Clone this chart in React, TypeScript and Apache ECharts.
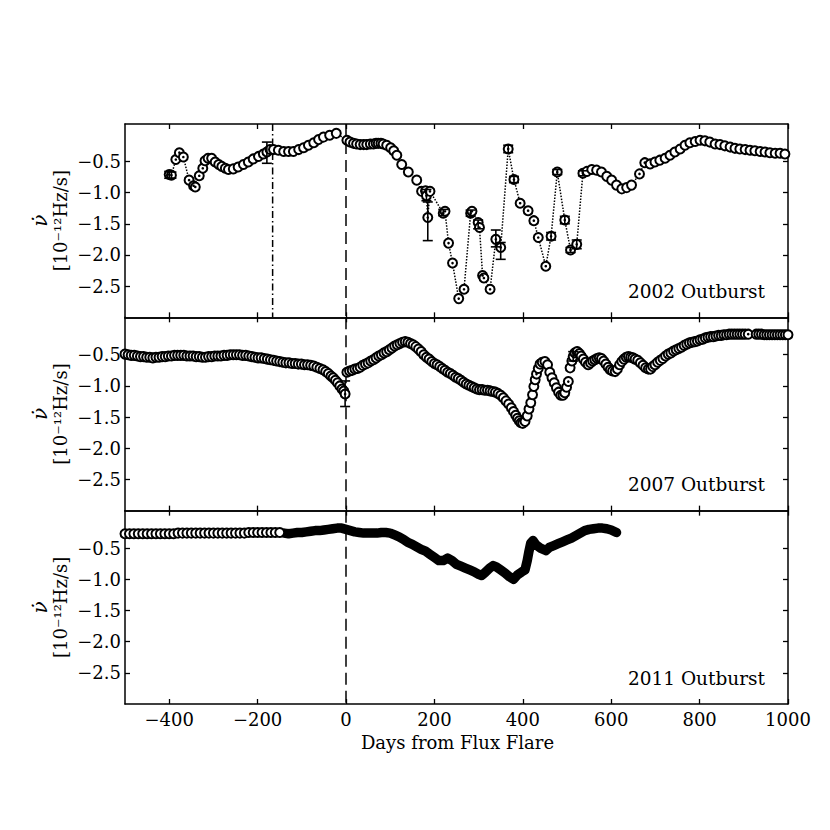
import React, { useEffect, useRef } from "react";
import * as echarts from "echarts";

// ---------- axes / labels ----------
const X_MIN = -500;
const X_MAX = 1000;
const Y_MIN = -3.0;
const Y_MAX = 0.1;
const X_TICKS = [-400, -200, 0, 200, 400, 600, 800, 1000];
const Y_TICKS = [-2.5, -2.0, -1.5, -1.0, -0.5];
const PANEL_LABELS = ["2002 Outburst", "2007 Outburst", "2011 Outburst"];
const X_TITLE = "Days from Flux Flare";
const Y_TITLE_TOP = "\u03BD\u0307";
const Y_TITLE_UNIT = "[10\u207B\u00B9\u00B2Hz/s]";
const FLARE_DAY = 0;
const DASHDOT_DAY_2002 = -166;

// ---------- 2002 outburst [day, nu-dot] ----------
const data2002: [number, number][] = [
  [-400, -0.71], [-395, -0.72], [-385, -0.47], [-377, -0.36], [-368, -0.43], [-355, -0.8],
  [-345, -0.89], [-341, -0.91], [-332, -0.73], [-324, -0.61], [-319, -0.49], [-312, -0.45],
  [-304, -0.45], [-296, -0.51], [-288, -0.55], [-281, -0.58], [-273, -0.61], [-266, -0.63],
  [-255, -0.62], [-244, -0.59], [-232, -0.55], [-221, -0.51], [-210, -0.46], [-198, -0.42],
  [-187, -0.38], [-179, -0.35], [-172, -0.31], [-164, -0.31], [-153, -0.32], [-141, -0.34],
  [-130, -0.34], [-119, -0.34], [-107, -0.31], [-96, -0.28], [-85, -0.24], [-73, -0.2],
  [-62, -0.15], [-51, -0.11], [-37, -0.08], [-22, -0.05],
  [2, -0.16], [9, -0.19], [17, -0.21], [24, -0.22], [32, -0.23], [40, -0.23], [47, -0.23],
  [55, -0.22], [62, -0.22], [68, -0.21], [73, -0.21], [79, -0.21], [84, -0.22], [92, -0.24],
  [101, -0.28], [108, -0.33], [115, -0.4], [126, -0.55], [141, -0.67], [160, -0.8],
  [171, -0.98], [180, -0.97], [182, -1.05], [185, -1.4], [190, -0.98], [220, -1.33],
  [224, -1.3], [232, -1.81], [241, -2.13], [255, -2.7], [267, -2.55], [282, -1.33],
  [285, -1.3], [299, -1.48], [302, -1.56], [309, -2.33], [312, -2.37], [326, -2.55],
  [339, -1.75], [350, -1.88], [367, -0.3], [380, -0.79], [394, -1.17], [412, -1.29],
  [425, -1.45], [435, -1.72], [452, -2.18], [464, -1.7], [478, -0.67], [495, -1.44],
  [508, -1.92], [522, -1.83], [536, -0.69], [545, -0.66], [556, -0.63], [567, -0.64],
  [578, -0.67], [590, -0.74], [601, -0.8], [612, -0.88], [624, -0.94], [635, -0.92],
  [646, -0.88], [664, -0.7], [676, -0.52], [688, -0.54], [699, -0.51], [710, -0.48],
  [722, -0.45], [733, -0.4], [744, -0.35], [756, -0.3], [767, -0.24], [778, -0.2],
  [790, -0.18], [801, -0.16], [812, -0.17], [823, -0.19], [835, -0.22], [846, -0.23],
  [857, -0.25], [869, -0.27], [880, -0.29], [891, -0.3], [903, -0.31], [914, -0.32],
  [925, -0.33], [937, -0.34], [948, -0.35], [959, -0.36], [971, -0.37], [982, -0.37],
  [993, -0.38],
];
// [day, low, high]
const err2002: [number, number, number][] = [
  [-400, -0.77, -0.66], [-395, -0.77, -0.67], [-179, -0.53, -0.19], [182, -1.13, -0.95],
  [185, -1.77, -1.15], [220, -1.37, -1.27], [282, -1.38, -1.28], [299, -1.58, -1.44],
  [339, -1.87, -1.6], [350, -2.07, -1.8], [367, -0.36, -0.24], [380, -0.84, -0.74],
  [464, -1.76, -1.64], [478, -0.71, -0.63], [495, -1.5, -1.38], [508, -1.96, -1.88],
  [522, -1.9, -1.76], [536, -0.73, -0.65],
];
const dotRanges2002: [number, number][] = [[-400, -320], [170, 540], [660, 680]];

// ---------- 2007 outburst ----------
const data2007: [number, number][] = [
  [-500, -0.49], [-493, -0.5], [-486, -0.51], [-479, -0.51], [-472, -0.52], [-465, -0.53],
  [-458, -0.53], [-451, -0.54], [-444, -0.54], [-437, -0.55], [-430, -0.54], [-423, -0.54],
  [-416, -0.53], [-409, -0.53], [-402, -0.52], [-395, -0.52], [-388, -0.51], [-381, -0.51],
  [-374, -0.51], [-367, -0.51], [-360, -0.52], [-353, -0.52], [-346, -0.52], [-339, -0.53],
  [-332, -0.53], [-325, -0.54], [-318, -0.54], [-311, -0.53], [-304, -0.53], [-297, -0.52],
  [-290, -0.52], [-283, -0.52], [-276, -0.51], [-269, -0.51], [-262, -0.5], [-255, -0.5],
  [-248, -0.5], [-241, -0.5], [-234, -0.51], [-227, -0.51], [-220, -0.52], [-213, -0.53],
  [-206, -0.54], [-199, -0.55], [-192, -0.55], [-185, -0.56], [-178, -0.57], [-171, -0.58],
  [-164, -0.59], [-157, -0.6], [-150, -0.61], [-143, -0.62], [-136, -0.63], [-129, -0.63],
  [-122, -0.64], [-115, -0.64], [-108, -0.65], [-101, -0.65], [-94, -0.66], [-87, -0.66],
  [-80, -0.67], [-73, -0.68], [-66, -0.7], [-59, -0.72], [-52, -0.74], [-46, -0.77],
  [-40, -0.8], [-34, -0.84], [-29, -0.87], [-24, -0.91], [-19, -0.95], [-14, -1.0],
  [-9, -1.05], [-5, -1.08], [-2, -1.13],
  [2, -0.78], [8, -0.76], [14, -0.75], [20, -0.73], [26, -0.72], [32, -0.7], [38, -0.67],
  [44, -0.65], [50, -0.63], [56, -0.6], [62, -0.58], [68, -0.55], [74, -0.52], [80, -0.5],
  [86, -0.47], [92, -0.45], [98, -0.42], [104, -0.39], [110, -0.36], [116, -0.34],
  [122, -0.32], [128, -0.3], [134, -0.29], [140, -0.3], [146, -0.32], [152, -0.34],
  [158, -0.37], [164, -0.41], [170, -0.45], [176, -0.5], [182, -0.54], [188, -0.57],
  [194, -0.61], [200, -0.64], [206, -0.66], [212, -0.69], [218, -0.72], [224, -0.75],
  [230, -0.78], [236, -0.8], [242, -0.83], [248, -0.86], [254, -0.88], [260, -0.91],
  [266, -0.94], [272, -0.97], [278, -0.99], [284, -1.01], [290, -1.03], [296, -1.05],
  [302, -1.06], [308, -1.06], [314, -1.07], [320, -1.07], [326, -1.08], [332, -1.09],
  [338, -1.1], [344, -1.12], [350, -1.15], [356, -1.19], [362, -1.24], [368, -1.29],
  [374, -1.35], [379, -1.41], [384, -1.47], [388, -1.52], [392, -1.56], [396, -1.59],
  [400, -1.6], [405, -1.57], [410, -1.48], [414, -1.37], [418, -1.27], [422, -1.14],
  [425, -1.01], [428, -0.9], [431, -0.81], [435, -0.72], [439, -0.65], [444, -0.62],
  [450, -0.61], [456, -0.66], [461, -0.78], [466, -0.87], [471, -0.95], [476, -1.03],
  [481, -1.1], [486, -1.15], [491, -1.15], [495, -1.11], [499, -1.02], [503, -0.93],
  [507, -0.71], [511, -0.6], [514, -0.53], [518, -0.47], [523, -0.45], [528, -0.48],
  [532, -0.52], [537, -0.57], [542, -0.62], [548, -0.66], [553, -0.63], [558, -0.6],
  [563, -0.58], [568, -0.56], [573, -0.55], [578, -0.56], [583, -0.6], [588, -0.65],
  [593, -0.7], [598, -0.74], [603, -0.76], [609, -0.77], [614, -0.73], [619, -0.66],
  [624, -0.61], [629, -0.57], [634, -0.54], [639, -0.53], [644, -0.54], [649, -0.55],
  [654, -0.57], [660, -0.59], [666, -0.63], [672, -0.67], [678, -0.71], [684, -0.73],
  [689, -0.73], [694, -0.69], [699, -0.66], [705, -0.62], [711, -0.59], [717, -0.56],
  [723, -0.52], [729, -0.49], [735, -0.47], [741, -0.44], [747, -0.42], [753, -0.4],
  [759, -0.38], [765, -0.35], [771, -0.33], [777, -0.31], [783, -0.3], [789, -0.29],
  [795, -0.28], [801, -0.26], [807, -0.25], [813, -0.23], [819, -0.22], [825, -0.21],
  [831, -0.21], [837, -0.2], [843, -0.19], [849, -0.19], [855, -0.18], [861, -0.18],
  [867, -0.17], [873, -0.17], [879, -0.17], [885, -0.17], [891, -0.17], [897, -0.17],
  [903, -0.17], [910, -0.17],
  [928, -0.17], [934, -0.17], [940, -0.17], [946, -0.18], [952, -0.18], [958, -0.18],
  [964, -0.18], [970, -0.18], [976, -0.18], [982, -0.18], [988, -0.18], [994, -0.18],
  [1000, -0.18],
];
const err2007: [number, number, number][] = [[-2, -1.33, -0.92], [514, -0.6, -0.45]];
const dotDays2007 = [-2, 431, 503, 514, 910];

// ---------- 2011 outburst ----------
const data2011Sparse: [number, number][] = [
  [-500, -0.27], [-490, -0.27], [-480, -0.27], [-470, -0.27], [-460, -0.27], [-450, -0.27],
  [-440, -0.27], [-430, -0.27], [-420, -0.27], [-410, -0.27], [-400, -0.27], [-390, -0.27],
  [-380, -0.26], [-370, -0.26], [-360, -0.26], [-350, -0.26], [-340, -0.26], [-330, -0.26],
  [-320, -0.26], [-310, -0.26], [-300, -0.26], [-290, -0.26], [-280, -0.26], [-270, -0.26],
  [-260, -0.26], [-250, -0.26], [-240, -0.26], [-230, -0.26], [-220, -0.25], [-210, -0.25],
  [-200, -0.25], [-190, -0.25], [-180, -0.25], [-170, -0.25], [-160, -0.25], [-150, -0.25],
];
const data2011Dense: [number, number][] = [
  [-140, -0.26], [-130, -0.27], [-120, -0.26], [-110, -0.25], [-100, -0.25], [-90, -0.24],
  [-80, -0.23], [-70, -0.22], [-60, -0.22], [-50, -0.21], [-40, -0.2], [-30, -0.19],
  [-20, -0.18], [-10, -0.18], [0, -0.2], [10, -0.22], [20, -0.24], [30, -0.25], [40, -0.26],
  [50, -0.26], [60, -0.26], [70, -0.26], [80, -0.25], [90, -0.25], [100, -0.26],
  [110, -0.29], [120, -0.32], [130, -0.36], [140, -0.41], [150, -0.44], [160, -0.48],
  [170, -0.52], [180, -0.55], [190, -0.6], [200, -0.65], [210, -0.7], [220, -0.7],
  [230, -0.66], [240, -0.7], [250, -0.76], [260, -0.79], [270, -0.82], [280, -0.85],
  [290, -0.88], [300, -0.92], [307, -0.94], [315, -0.89], [325, -0.82], [333, -0.78],
  [340, -0.8], [350, -0.85], [360, -0.9], [370, -0.96], [379, -1.0], [388, -0.93],
  [398, -0.88], [405, -0.85], [410, -0.7], [414, -0.55], [418, -0.42], [423, -0.38],
  [430, -0.45], [440, -0.5], [452, -0.54], [460, -0.49], [470, -0.46], [480, -0.43],
  [490, -0.4], [500, -0.37], [510, -0.34], [520, -0.3], [530, -0.26], [540, -0.22],
  [550, -0.2], [560, -0.19], [570, -0.18], [580, -0.18], [590, -0.19], [600, -0.21],
  [612, -0.25],
];

const FONT = "'DejaVu Serif', serif";
const FS = 18;
const FS_PANEL = 18.5;
const minus = (s: string) => s.replace("-", "\u2212");

const GRID_LEFT = 125;
const GRID_WIDTH = 663;
const GRID_TOP = 124;
const GRID_H = 193.33;

function buildOption() {
  const grids: any[] = [];
  const xAxes: any[] = [];
  const yAxes: any[] = [];
  const series: any[] = [];
  const graphic: any[] = [];

  const black = "#000";

  for (let i = 0; i < 3; i++) {
    const top = GRID_TOP + i * GRID_H;
    grids.push({ left: GRID_LEFT, width: GRID_WIDTH, top, height: GRID_H, containLabel: false });
    ["bottom", "top"].forEach((pos) => {
      xAxes.push({
        type: "value",
        gridIndex: i,
        position: pos,
        min: X_MIN,
        max: X_MAX,
        axisLine: { show: true, onZero: false, lineStyle: { color: black, width: 1.5 } },
        axisTick: { show: true, inside: true, length: 5, customValues: X_TICKS, lineStyle: { color: black, width: 1.3 } },
        axisLabel: {
          show: pos === "bottom" && i === 2,
          customValues: X_TICKS,
          formatter: (v: number) => minus(String(v)),
          color: black,
          fontFamily: FONT,
          fontSize: FS,
          margin: 7,
        },
        splitLine: { show: false },
      });
    });
    ["left", "right"].forEach((pos) => {
      yAxes.push({
        type: "value",
        gridIndex: i,
        position: pos,
        min: Y_MIN,
        max: Y_MAX,
        axisLine: { show: true, onZero: false, lineStyle: { color: black, width: 1.5 } },
        axisTick: { show: true, inside: true, length: 5, customValues: Y_TICKS, lineStyle: { color: black, width: 1.3 } },
        axisLabel: {
          show: pos === "left",
          customValues: Y_TICKS,
          formatter: (v: number) => minus(v.toFixed(1)),
          color: black,
          fontFamily: FONT,
          fontSize: FS,
          margin: 4,
        },
        splitLine: { show: false },
      });
    });

    // flare day dashed line
    series.push({
      type: "line",
      xAxisIndex: 2 * i,
      yAxisIndex: 2 * i,
      data: [[FLARE_DAY, Y_MAX], [FLARE_DAY, Y_MIN]],
      symbol: "none",
      lineStyle: { color: black, width: 1.5, type: [12, 6] },
      z: 1,
      silent: true,
    });

    graphic.push({
      type: "text",
      x: GRID_LEFT + GRID_WIDTH - 23,
      y: top + GRID_H - 25.7,
      style: { text: PANEL_LABELS[i], fill: black, font: `${FS_PANEL}px ${FONT}`, textAlign: "right", textVerticalAlign: "middle" },
    });
    const cy = top + GRID_H / 2;
    graphic.push({
      type: "text",
      x: 40,
      y: cy,
      rotation: Math.PI / 2,
      style: { text: Y_TITLE_TOP, fill: black, font: `italic ${FS + 2}px ${FONT}`, textAlign: "center", textVerticalAlign: "middle" },
    });
    graphic.push({
      type: "text",
      x: 60,
      y: cy,
      rotation: Math.PI / 2,
      style: { text: Y_TITLE_UNIT, fill: black, font: `${FS}px ${FONT}`, textAlign: "center", textVerticalAlign: "middle" },
    });
  }

  graphic.push({
    type: "text",
    x: GRID_LEFT + GRID_WIDTH / 2 + 1,
    y: 742,
    style: { text: X_TITLE, fill: black, font: `${FS}px ${FONT}`, textAlign: "center", textVerticalAlign: "middle" },
  });

  const openCircle = {
    symbol: "circle",
    symbolSize: 9,
    itemStyle: { color: "#fff", borderColor: black, borderWidth: 2, opacity: 1 },
  };
  const centerDot = {
    symbol: "circle",
    symbolSize: 2.6,
    itemStyle: { color: black, opacity: 1 },
  };

  const errSeries = (idx: number, data: [number, number, number][]) => ({
    type: "custom",
    xAxisIndex: 2 * idx,
    yAxisIndex: 2 * idx,
    data,
    encode: { x: 0, y: [1, 2] },
    z: 6,
    silent: true,
    renderItem: (params: any, api: any) => {
      const x = api.value(0);
      const p1 = api.coord([x, api.value(2)]);
      const p2 = api.coord([x, api.value(1)]);
      const w = 5;
      const style = { stroke: black, lineWidth: 1.6 };
      return {
        type: "group",
        children: [
          { type: "line", shape: { x1: p1[0], y1: p1[1], x2: p2[0], y2: p2[1] }, style },
          { type: "line", shape: { x1: p1[0] - w, y1: p1[1], x2: p1[0] + w, y2: p1[1] }, style },
          { type: "line", shape: { x1: p2[0] - w, y1: p2[1], x2: p2[0] + w, y2: p2[1] }, style },
        ],
      };
    },
  });

  // ---- 2002 ----
  series.push({
    type: "line",
    xAxisIndex: 0,
    yAxisIndex: 0,
    data: [[DASHDOT_DAY_2002, Y_MAX], [DASHDOT_DAY_2002, Y_MIN]],
    symbol: "none",
    lineStyle: { color: black, width: 1.5, type: [7, 3, 1.5, 3] },
    z: 1,
    silent: true,
  });
  series.push({
    type: "line",
    xAxisIndex: 0,
    yAxisIndex: 0,
    data: data2002,
    symbol: "none",
    lineStyle: { color: black, width: 1.5, type: "dotted" },
    z: 2,
    silent: true,
  });
  series.push({ type: "scatter", xAxisIndex: 0, yAxisIndex: 0, data: data2002, ...openCircle, z: 3, silent: true });
  series.push({
    type: "scatter",
    xAxisIndex: 0,
    yAxisIndex: 0,
    data: data2002.filter(([d]) => dotRanges2002.some(([a, b]) => d >= a && d <= b)),
    ...centerDot,
    z: 4,
    silent: true,
  });
  series.push(errSeries(0, err2002));

  // ---- 2007 ----
  series.push({ type: "scatter", xAxisIndex: 2, yAxisIndex: 2, data: data2007, ...openCircle, z: 3, silent: true });
  series.push({
    type: "scatter",
    xAxisIndex: 2,
    yAxisIndex: 2,
    data: data2007.filter(([d]) => dotDays2007.includes(d)),
    ...centerDot,
    z: 4,
    silent: true,
  });
  series.push(errSeries(1, err2007));

  // ---- 2011 ----
  series.push({ type: "scatter", xAxisIndex: 4, yAxisIndex: 4, data: data2011Sparse, ...openCircle, z: 3, silent: true });
  series.push({
    type: "line",
    xAxisIndex: 4,
    yAxisIndex: 4,
    data: data2011Dense,
    symbol: "none",
    lineStyle: { color: black, width: 9.5, cap: "round", join: "round" },
    z: 3,
    silent: true,
  });

  return {
    animation: false,
    backgroundColor: "#fff",
    grid: grids,
    xAxis: xAxes,
    yAxis: yAxes,
    series,
    graphic,
  };
}

export default function App() {
  const ref = useRef<HTMLDivElement>(null);
  useEffect(() => {
    document.body.style.margin = "0";
    if (!ref.current) return;
    const chart = echarts.init(ref.current, undefined, { renderer: "svg" });
    chart.setOption(buildOption() as any);
    return () => chart.dispose();
  }, []);
  return <div ref={ref} style={{ width: 830, height: 830, position: "absolute", left: 0, top: 0 }} />;
}
